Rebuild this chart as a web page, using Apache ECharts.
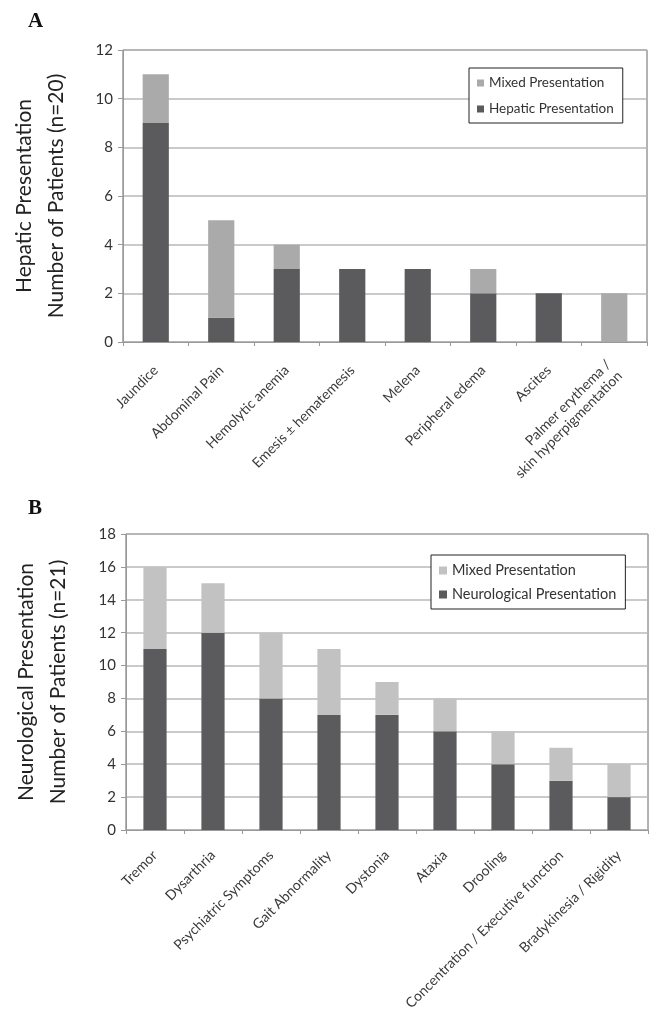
<!DOCTYPE html>
<html>
<head>
<meta charset="utf-8">
<script src="https://cdn.jsdelivr.net/npm/echarts@6/dist/echarts.min.js"></script>
<style>
html,body{margin:0;padding:0;background:#fff;}
#a{position:absolute;left:0;top:0;width:659px;height:487px;}
#b{position:absolute;left:0;top:487px;width:659px;height:528px;}
</style>
</head>
<body>
<div id="a"></div>
<div id="b"></div>
<script>
// Panel A data
const catA = ['Jaundice','Abdominal Pain','Hemolytic anemia','Emesis \u00b1 hematemesis','Melena','Peripheral edema','Ascites','Palmer erythema /\nskin hyperpigmentation'];
const hepaticA = [9, 1, 3, 3, 3, 2, 2, 0];
const mixedA = [2, 4, 1, 0, 0, 1, 0, 2];
// Panel B data
const catB = ['Tremor','Dysarthria','Psychiatric Symptoms','Gait Abnormality','Dystonia','Ataxia','Drooling','Concentration / Executive function','Bradykinesia / Rigidity'];
const neuroB = [11, 12, 8, 7, 7, 6, 4, 3, 2];
const mixedB = [5, 3, 4, 4, 2, 2, 2, 2, 2];

const FONT = 'Lato, "Open Sans", sans-serif';
const DARK = '#5b5b5d';

function makeOption(cfg) {
  return {
    animation: false,
    textStyle: {fontFamily: FONT},
    title: {text: cfg.letter, left: 23, top: cfg.letterTop, textStyle: {fontFamily: '"Liberation Serif", "DejaVu Serif", serif', fontWeight: 'bold', fontSize: 21, color: '#111'}},
    grid: {left: cfg.left, top: cfg.top, right: cfg.right, height: cfg.height, show: true, borderColor: '#666', borderWidth: 1, containLabel: false},
    legend: {
      orient: 'vertical', left: cfg.legLeft, top: cfg.legTop,
      data: ['Mixed Presentation', cfg.mainName],
      icon: 'rect', itemWidth: cfg.icon, itemHeight: cfg.icon, itemGap: cfg.legGap,
      padding: [8, 9, 7, 8],
      borderColor: '#222', borderWidth: 1, backgroundColor: '#fff',
      textStyle: {fontFamily: FONT, fontSize: cfg.legFont, color: '#333'}
    },
    xAxis: {
      type: 'category', data: cfg.cats,
      axisLine: {lineStyle: {color: '#999'}},
      axisTick: {show: true, length: 4, lineStyle: {color: '#999'}},
      axisLabel: {rotate: 45, fontSize: 14, color: '#3a3a3a', margin: cfg.xMargin, interval: 0, lineHeight: 16, fontFamily: FONT}
    },
    yAxis: {
      type: 'value', min: 0, max: cfg.max, interval: 2,
      name: cfg.yName, nameLocation: 'middle', nameRotate: 90, nameGap: cfg.nameGap,
      nameTextStyle: {fontSize: 21, color: '#222', lineHeight: 32, fontFamily: FONT},
      axisLine: {show: true, lineStyle: {color: '#999'}},
      axisTick: {show: true, length: 5, lineStyle: {color: '#999'}},
      axisLabel: {fontSize: 15, color: '#333', margin: 10, fontFamily: FONT},
      splitLine: {show: true, lineStyle: {color: '#b8b8b8', width: 1.5}}
    },
    series: [
      {name: cfg.mainName, type: 'bar', stack: 's', data: cfg.main, barWidth: '40%', itemStyle: {color: DARK}},
      {name: 'Mixed Presentation', type: 'bar', stack: 's', data: cfg.mixed, barWidth: '40%', itemStyle: {color: cfg.light}}
    ]
  };
}

const chartA = echarts.init(document.getElementById('a'), null, {renderer: 'canvas'});
chartA.setOption(makeOption({
  letter: 'A', letterTop: 6,
  left: 123, top: 50, right: 12, height: 292,
  legLeft: 469, legTop: 68, icon: 7, legGap: 12, legFont: 13.5,
  cats: catA, max: 12, yName: 'Hepatic Presentation\nNumber of Patients (n=20)', nameGap: 51, xMargin: 26,
  mainName: 'Hepatic Presentation', main: hepaticA, mixed: mixedA, light: '#aaaaaa'
}));

const chartB = echarts.init(document.getElementById('b'), null, {renderer: 'canvas'});
chartB.setOption(makeOption({
  letter: 'B', letterTop: 6,
  left: 126, top: 47, right: 11, height: 296,
  legLeft: 431, legTop: 68, icon: 8, legGap: 9, legFont: 14.5,
  cats: catB, max: 18, yName: 'Neurological Presentation\nNumber of Patients (n=21)', nameGap: 52, xMargin: 23,
  mainName: 'Neurological Presentation', main: neuroB, mixed: mixedB, light: '#c2c2c2'
}));
</script>
</body>
</html>
